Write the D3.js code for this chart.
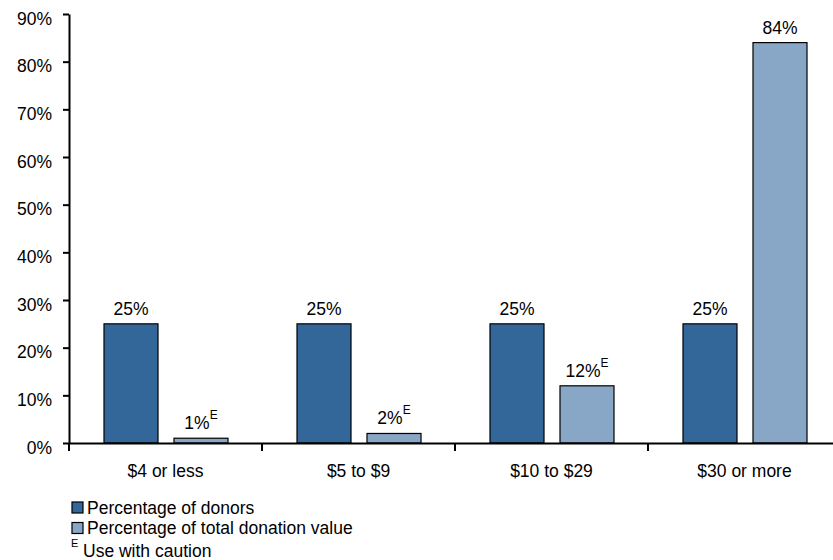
<!DOCTYPE html>
<html><head><meta charset="utf-8">
<script src="https://cdn.jsdelivr.net/npm/d3@7/dist/d3.min.js"></script>
<style>body{margin:0;background:#fff}svg{display:block;font-family:"Liberation Sans",Arial,sans-serif}</style>
</head><body><svg id="c" width="833" height="560"></svg>
<script>
const categories = ["$4 or less", "$5 to $9", "$10 to $29", "$30 or more"];
const seriesNames = ["Percentage of donors", "Percentage of total donation value"];
const donors = [25, 25, 25, 25];
const donationValue = [1, 2, 12, 84];
const cautionFlags = [[false,false,false,false],[true,true,true,false]];
const yTicks = [0,10,20,30,40,50,60,70,80,90];
const colors = ["#336699", "#88a6c6"];

const FS = 17.5;
const FF = "Liberation Sans, Arial, sans-serif";
const svg = d3.select("#c");
const y = d3.scaleLinear().domain([0, 90]).range([443, 14]);
const x = d3.scaleBand().domain(categories).range([69, 841]);
const xi = d3.scaleBand().domain(seriesNames).range([35, 159]).paddingInner(16/70);
const values = [donors, donationValue];

// y axis
const ya = svg.append("g").attr("transform","translate(69,0)")
  .call(d3.axisLeft(y).tickValues(yTicks).tickFormat(d=>d+"%").tickSize(6).tickSizeOuter(0));
ya.select(".domain").attr("stroke","#000").attr("stroke-width",2);
ya.selectAll(".tick line").attr("stroke","#000").attr("stroke-width",2);
ya.selectAll(".tick text").attr("font-size",FS).attr("fill","#000").attr("x",-17).attr("dy",10).attr("font-family",FF);

// bars
seriesNames.forEach((s, si) => {
  const g = svg.append("g");
  g.selectAll("rect").data(values[si]).join("rect")
    .attr("x",(d,i)=>x(categories[i])+xi(s))
    .attr("y",d=>y(d))
    .attr("width",xi.bandwidth())
    .attr("height",d=>y(0)-y(d))
    .attr("fill",colors[si]).attr("stroke","#000").attr("stroke-width",1.2);
  const t = g.selectAll("text").data(values[si]).join("text")
    .attr("x",(d,i)=>x(categories[i])+xi(s)+xi.bandwidth()/2)
    .attr("y",d=>y(d)-9)
    .attr("text-anchor","middle").attr("font-size",FS).attr("fill","#000");
  t.append("tspan").text(d=>d+"%");
  t.filter((d,i)=>cautionFlags[si][i]).append("tspan").attr("dy",-10).attr("font-size",12).text("E");
});

// x axis
const xa = svg.append("g").attr("transform","translate(0,443)")
  .call(d3.axisBottom(x).tickSize(0).tickSizeOuter(0));
xa.select(".domain").attr("stroke","#000").attr("stroke-width",2);
xa.selectAll(".tick text").attr("font-size",FS).attr("fill","#000").attr("dy",0).attr("y",34).attr("font-family",FF);
// category separator ticks
const bounds = categories.map(c=>x(c)).concat([x.range()[1]]);
svg.append("g").selectAll("line").data(bounds).join("line")
  .attr("x1",d=>d).attr("x2",d=>d).attr("y1",443).attr("y2",451)
  .attr("stroke","#000").attr("stroke-width",2);

// legend
const lg = svg.append("g");
seriesNames.forEach((s,i)=>{
  lg.append("rect").attr("x",72).attr("y",502+i*20.5).attr("width",11).attr("height",11)
    .attr("fill",colors[i]).attr("stroke","#000").attr("stroke-width",1.2);
  lg.append("text").attr("x",87).attr("y",513.5+i*20.5).attr("font-size",FS).attr("fill","#000").text(s);
});
lg.append("text").attr("x",71).attr("y",547).attr("font-size",11).attr("fill","#000").text("E");
lg.append("text").attr("x",83).attr("y",557).attr("font-size",FS).attr("fill","#000").text("Use with caution");
</script></body></html>
